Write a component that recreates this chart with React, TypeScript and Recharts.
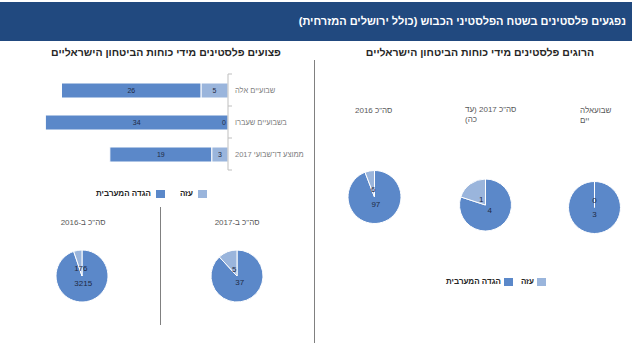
import React from 'react';
import { BarChart, Bar, XAxis, YAxis, LabelList, PieChart, Pie, Cell } from 'recharts';

// ---------- data ----------
const mainTitle = 'נפגעים פלסטינים בשטח הפלסטיני הכבוש (כולל ירושלים המזרחית)';
const killedTitle = 'הרוגים פלסטינים מידי כוחות הביטחון הישראליים';
const injuredTitle = 'פצועים פלסטינים מידי כוחות הביטחון הישראליים';

const seriesNames = ['הגדה המערבית', 'עזה'];
const seriesColors = ['#5B88C9', '#9AB5DC'];

const barCategories = ['שבועיים אלה', 'בשבועיים שעברו', 'ממוצע דו־שבועי 2017'];
const barWestBank = [26, 34, 19];
const barGaza = [5, 0, 3];

const injuredPieTitles = ['סה"כ ב-2016', 'סה"כ ב-2017'];
const injuredWestBank = [3215, 37];
const injuredGaza = [176, 5];

const killedPieTitles = [['סה"כ 2016'], ['סה"כ 2017 (עד', 'כה)'], ['שבועאלה', 'יים']];
const killedWestBank = [97, 4, 3];
const killedGaza = [6, 1, 0];

// ---------- derived tables ----------
const barData = barCategories.map((name, i) => ({ name, westBank: barWestBank[i], gaza: barGaza[i] }));
const pieData = (wb: number[], gz: number[], i: number) => [
  { name: seriesNames[0], value: wb[i] },
  { name: seriesNames[1], value: gz[i] },
];

const FONT = '"Liberation Sans", "DejaVu Sans", Arial, sans-serif';
const RADIAN = Math.PI / 180;
const LABEL_COLOR = '#1F2A44';

const CategoryTick = (props: any) => {
  const { x, y, payload, index, visibleTicksCount, height } = props;
  const axisX = x - 7;
  const band = typeof height === 'number' && visibleTicksCount ? height / visibleTicksCount : 0;
  return (
    <g>
      {band > 0 && (
        <line x1={axisX} x2={axisX + 4} y1={y - band / 2} y2={y - band / 2} stroke="#BFBFBF" />
      )}
      {band > 0 && index === visibleTicksCount - 1 && (
        <line x1={axisX} x2={axisX + 4} y1={y + band / 2} y2={y + band / 2} stroke="#BFBFBF" />
      )}
      <text x={x} y={y} dy={3} textAnchor="start" fontSize={7.5} fill="#808080" fontFamily={FONT}>
        {'\u2067' + payload.value + '\u2069'}
      </text>
    </g>
  );
};

// label for the Gaza segment
const GazaLabel = (p: any) => {
  const w = Number(p.width) || 0;
  const cx = Number(p.x) + w / 2;
  const cy = Number(p.y) + Number(p.height) / 2;
  return (
    <text x={cx} y={cy} dy={2.5} textAnchor="middle" fontSize={7} fill={LABEL_COLOR} fontFamily={FONT}>
      {p.value}
    </text>
  );
};

// label for the West Bank segment; also shows a zero Gaza value (whose segment has no width) at the axis end
const WestBankLabel = (p: any) => {
  const x = Number(p.x);
  const w = Number(p.width) || 0;
  const cx = x + w / 2;
  const cy = Number(p.y) + Number(p.height) / 2;
  const axisEnd = Math.max(x, x + w);
  const gz = barGaza[p.index];
  return (
    <g>
      <text x={cx} y={cy} dy={2.5} textAnchor="middle" fontSize={7} fill={LABEL_COLOR} fontFamily={FONT}>
        {p.value}
      </text>
      {gz === 0 && (
        <text x={axisEnd - 2} y={cy} dy={2.5} textAnchor="end" fontSize={7} fill={LABEL_COLOR} fontFamily={FONT}>
          {gz}
        </text>
      )}
    </g>
  );
};

const renderPieLabel = (p: any) => {
  const r = p.outerRadius * 0.28;
  const x = p.cx + r * Math.cos(-p.midAngle * RADIAN);
  const y = p.cy + r * Math.sin(-p.midAngle * RADIAN);
  return (
    <text x={x} y={y} textAnchor="middle" dominantBaseline="central" fontSize={8} fill={LABEL_COLOR} fontFamily={FONT}>
      {p.value}
    </text>
  );
};

const Legend2 = ({ right, top, gapItem, gapText }: { right: number; top: number; gapItem: number; gapText: number }) => (
  <div
    dir="rtl"
    style={{
      position: 'absolute',
      right,
      top,
      display: 'flex',
      alignItems: 'center',
      gap: gapItem,
      fontSize: 8,
      fontWeight: 'bold',
      color: '#262626',
      fontFamily: FONT,
      lineHeight: '10px',
    }}
  >
    {[1, 0].map((s) => (
      <div key={s} style={{ display: 'flex', alignItems: 'center', gap: gapText }}>
        <div style={{ width: 9, height: 8, background: seriesColors[s] }} />
        <span>{seriesNames[s]}</span>
      </div>
    ))}
  </div>
);

const textStyle = (extra: React.CSSProperties): React.CSSProperties => ({
  position: 'absolute',
  fontFamily: FONT,
  whiteSpace: 'nowrap',
  ...extra,
});

const pieProps = {
  outerRadius: 26,
  startAngle: 90,
  endAngle: -270,
  dataKey: 'value',
  stroke: '#ffffff',
  strokeWidth: 1,
  labelLine: false,
  label: renderPieLabel,
  isAnimationActive: false,
};

export default function App() {
  return (
    <div style={{ position: 'absolute', left: 0, top: 0, width: 640, height: 360, background: '#fff', overflow: 'hidden' }}>
      {/* header */}
      <div style={{ position: 'absolute', left: 0, top: 2, width: 632, height: 39, background: '#21497F' }} />
      <div dir="rtl" style={textStyle({ right: 14, top: 2, lineHeight: '39px', color: '#fff', fontWeight: 'bold', fontSize: 11 })}>
        {mainTitle}
      </div>

      {/* section titles */}
      <div dir="rtl" style={textStyle({ left: 480, top: 46, transform: 'translateX(-50%)', fontWeight: 'bold', fontSize: 10.5, color: '#262626', lineHeight: '12px' })}>
        {killedTitle}
      </div>
      <div dir="rtl" style={textStyle({ left: 166, top: 46, transform: 'translateX(-50%)', fontWeight: 'bold', fontSize: 10.5, color: '#262626', lineHeight: '12px' })}>
        {injuredTitle}
      </div>

      {/* separators */}
      <div style={{ position: 'absolute', left: 314, top: 60, width: 1, height: 283, background: '#808080' }} />
      <div style={{ position: 'absolute', left: 160, top: 207, width: 1, height: 118, background: '#808080' }} />

      {/* injured bar chart */}
      <div style={{ position: 'absolute', left: 0, top: 0 }}>
        <BarChart
          width={314}
          height={190}
          data={barData}
          layout="vertical"
          reverseStackOrder
          margin={{ top: 74, right: 0, bottom: 20, left: 40 }}
          barSize={15}
        >
          <XAxis type="number" domain={[0, 35]} reversed hide />
          <YAxis
            type="category"
            dataKey="name"
            orientation="right"
            width={86}
            interval={0}
            axisLine={{ stroke: '#BFBFBF' }}
            tickLine={false}
            tickSize={4}
            tickMargin={3}
            tick={<CategoryTick />}
          />
          <Bar dataKey="westBank" stackId="s" fill={seriesColors[0]} stroke="#fff" strokeWidth={1} isAnimationActive={false}>
            <LabelList dataKey="westBank" content={WestBankLabel} />
          </Bar>
          <Bar dataKey="gaza" stackId="s" fill={seriesColors[1]} stroke="#fff" strokeWidth={1} isAnimationActive={false}>
            <LabelList dataKey="gaza" content={GazaLabel} />
          </Bar>
        </BarChart>
      </div>

      <Legend2 right={640 - 207} top={189} gapItem={15} gapText={5} />

      {/* injured pie titles */}
      <div dir="rtl" style={textStyle({ left: 83, top: 217, transform: 'translateX(-50%)', fontSize: 8, color: '#595959', lineHeight: '12px' })}>
        {injuredPieTitles[0]}
      </div>
      <div dir="rtl" style={textStyle({ left: 237, top: 217, transform: 'translateX(-50%)', fontSize: 8, color: '#595959', lineHeight: '12px' })}>
        {injuredPieTitles[1]}
      </div>

      {/* killed pie titles */}
      <div dir="rtl" style={textStyle({ left: 355, top: 106, fontSize: 8, color: '#595959', lineHeight: '10px', textAlign: 'left' })}>
        {killedPieTitles[0].map((l, i) => (<div key={i}>{l}</div>))}
      </div>
      <div dir="rtl" style={textStyle({ left: 465, top: 105, fontSize: 8, color: '#595959', lineHeight: '10px', textAlign: 'left' })}>
        {killedPieTitles[1].map((l, i) => (<div key={i}>{l}</div>))}
      </div>
      <div dir="rtl" style={textStyle({ left: 580, top: 106, fontSize: 8, color: '#595959', lineHeight: '10px', textAlign: 'left' })}>
        {killedPieTitles[2].map((l, i) => (<div key={i}>{l}</div>))}
      </div>

      <Legend2 right={640 - 546} top={277} gapItem={8} gapText={3} />

      {/* all pies */}
      <div style={{ position: 'absolute', left: 0, top: 0, pointerEvents: 'none' }}>
        <PieChart width={640} height={360} margin={{ top: 0, right: 0, bottom: 0, left: 0 }}>
          <Pie {...pieProps} data={pieData(injuredWestBank, injuredGaza, 0)} cx={82} cy={276}>
            {seriesColors.map((c, i) => (<Cell key={i} fill={c} />))}
          </Pie>
          <Pie {...pieProps} data={pieData(injuredWestBank, injuredGaza, 1)} cx={237} cy={276}>
            {seriesColors.map((c, i) => (<Cell key={i} fill={c} />))}
          </Pie>
          <Pie {...pieProps} outerRadius={26.5} data={pieData(killedWestBank, killedGaza, 0)} cx={374.5} cy={197}>
            {seriesColors.map((c, i) => (<Cell key={i} fill={c} />))}
          </Pie>
          <Pie {...pieProps} data={pieData(killedWestBank, killedGaza, 1)} cx={485.5} cy={205}>
            {seriesColors.map((c, i) => (<Cell key={i} fill={c} />))}
          </Pie>
          <Pie {...pieProps} data={pieData(killedWestBank, killedGaza, 2)} cx={594.5} cy={207.5}>
            {seriesColors.map((c, i) => (<Cell key={i} fill={c} />))}
          </Pie>
        </PieChart>
      </div>
    </div>
  );
}
